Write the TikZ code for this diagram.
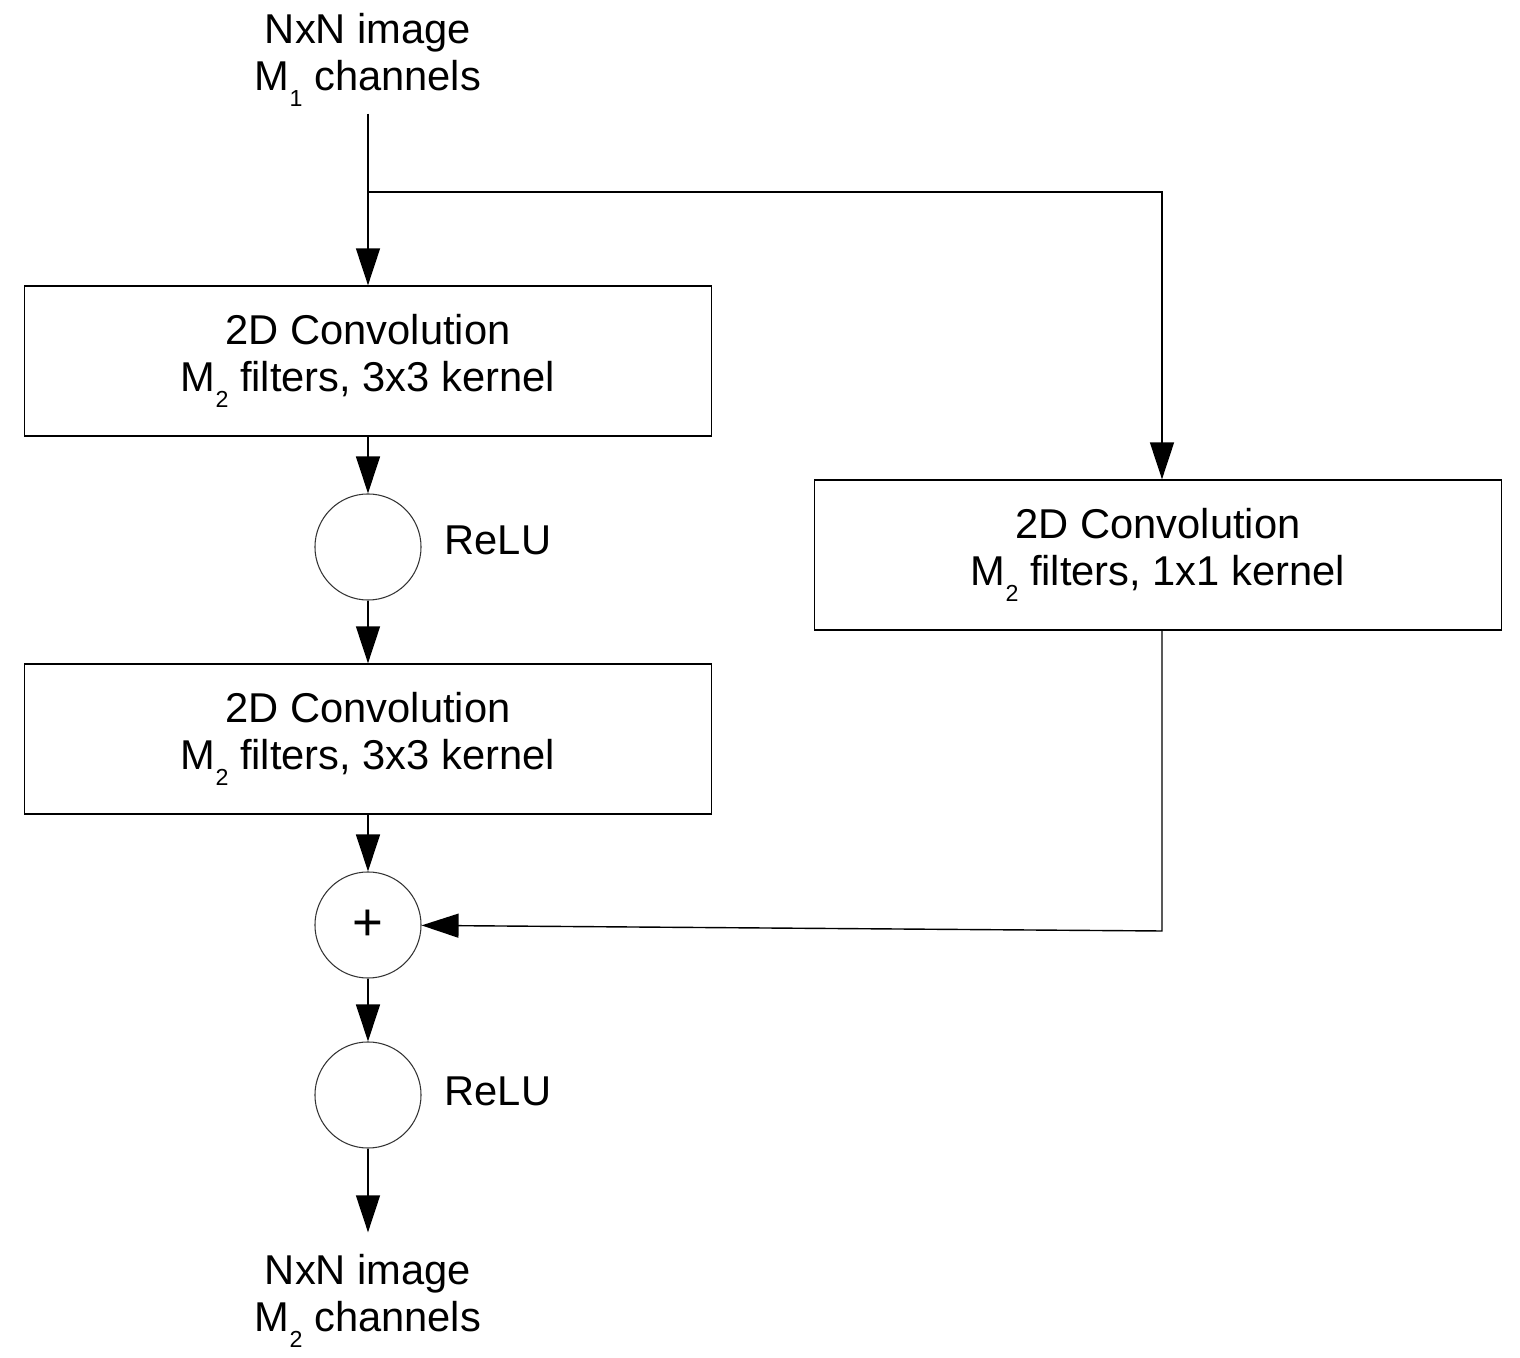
\documentclass[tikz,border=0pt]{standalone}
\usepackage{fontspec}
\setmainfont{Liberation Sans}
\usetikzlibrary{arrows.meta}
\newcommand{\lowidx}[1]{\raisebox{-4.6pt}{\fontsize{6.6}{7}\selectfont #1}}
\begin{document}
\begin{tikzpicture}[x=0.01cm,y=-0.01cm,
  font=\fontsize{11.85}{13.1}\selectfont,
  conv/.style={draw,line width=0.35pt,minimum width=6.86cm,minimum height=1.5cm,align=center},
  unit/.style={draw,black!80,line width=0.3pt,circle,minimum size=1.06cm,inner sep=0pt,text=black},
  lbl/.style={align=center},
  flow/.style={line width=0.4pt,-{Triangle[length=0.37cm,width=0.24cm]}}]
\useasboundingbox (0,0) rectangle (1520,1358);
\node (in) at (368,60) [lbl] {NxN image\\M\lowidx{1} channels};
\node (conv1) at (368,361) [conv] {2D Convolution\\M\lowidx{2} filters, 3x3 kernel};
\node (relu1) at (368,547) [unit] {};
\node (relu1-lbl) at (498,540) [] {ReLU};
\node (conv2) at (368,739) [conv] {2D Convolution\\M\lowidx{2} filters, 3x3 kernel};
\node (add) at (368,925) [unit,font=\fontsize{15}{15}\selectfont] {+};
\node (relu2) at (368,1095) [unit] {};
\node (relu2-lbl) at (498,1091) [] {ReLU};
\node (out) at (368,1301) [lbl] {NxN image\\M\lowidx{2} channels};
\node (conv3) at (1158,555) [conv] {2D Convolution\\M\lowidx{2} filters, 1x1 kernel};
\coordinate (split) at (368,192);
\coordinate (turn-a) at (1162,192);
\coordinate (turn-b) at (1162,931);
\draw[flow,shorten <=-0.05cm] (in) -- (conv1);
\draw[flow] (split) -- (turn-a) -- (turn-a |- conv3.north);
\draw[flow] (conv1) -- (relu1);
\draw[flow] (relu1) -- (conv2);
\draw[flow] (conv2) -- (add);
\draw[flow] (turn-b |- conv3.south) -- (turn-b) -- (add);
\draw[flow] (add) -- (relu2);
\draw[flow,shorten >=0.1cm] (relu2) -- (out);
\end{tikzpicture}
\end{document}
